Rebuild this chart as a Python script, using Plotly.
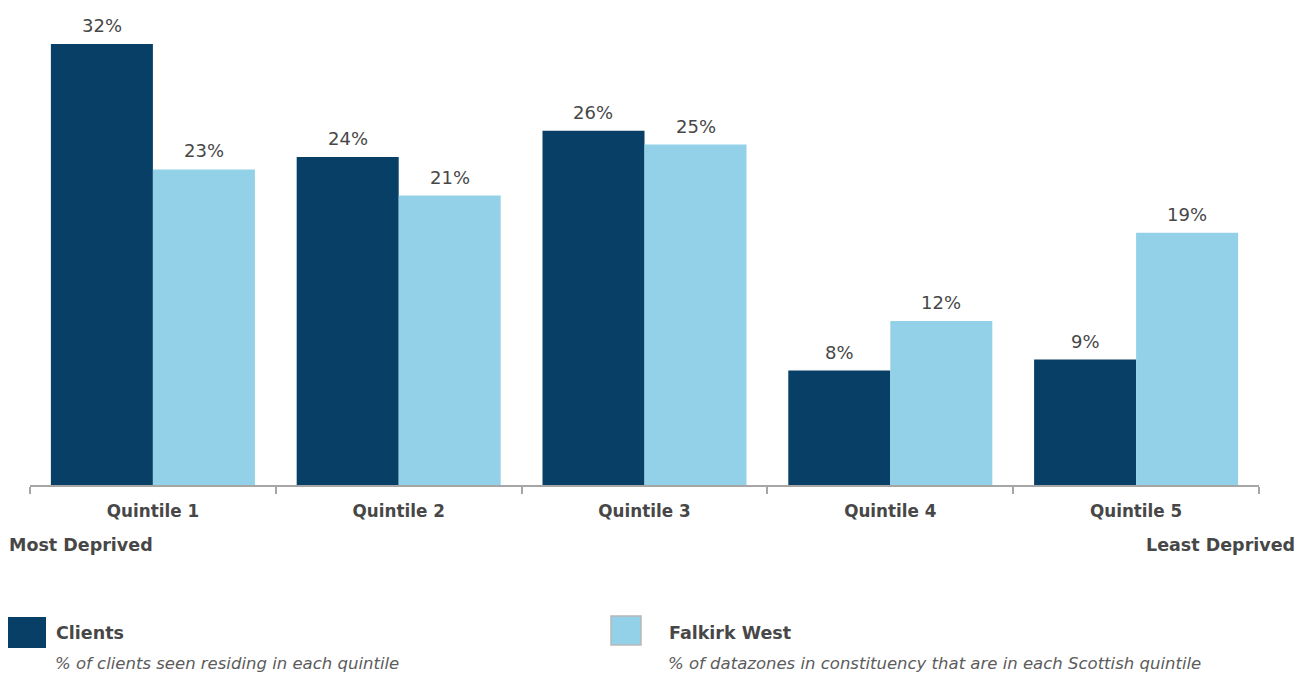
import plotly.graph_objects as go

categories = ["Quintile 1", "Quintile 2", "Quintile 3", "Quintile 4", "Quintile 5"]
clients = [32.0, 23.8, 25.7, 8.3, 9.1]
clients_labels = ["32%", "24%", "26%", "8%", "9%"]
falkirk = [22.9, 21.0, 24.7, 11.9, 18.3]
falkirk_labels = ["23%", "21%", "25%", "12%", "19%"]

DARK = "#083f66"
LIGHT = "#92d1e8"
TXT = "#474747"
FONT = "DejaVu Sans"

OFF = 8  # page body margin
W, H = 1310 - OFF, 675 - OFF
L, R, T, B = 30 - OFF, 51, 44 - OFF, 190
pw, ph = W - L - R, H - T - B
BARGAP = 0.17
half_bar = pw / len(categories) * (1 - BARGAP) / 4


def px(x):
    return (x - OFF - L) / pw


def py(y):
    return (H - B - (y - OFF)) / ph


fig = go.Figure()
fig.add_bar(x=categories, y=clients, name="Clients", marker_color=DARK,
            marker_line_width=0)
fig.add_bar(x=categories, y=falkirk, name="Falkirk West", marker_color=LIGHT,
            marker_line_width=0)

annotations = []
for vals, labs, sh in [(clients, clients_labels, -half_bar), (falkirk, falkirk_labels, half_bar)]:
    for c, v, t in zip(categories, vals, labs):
        annotations.append(dict(x=c, y=v, text=t, xref="x", yref="y", showarrow=False,
                                xshift=sh, yshift=6, yanchor="bottom",
                                font=dict(size=18, color=TXT, family=FONT)))

shapes = [
    dict(type="rect", xref="paper", yref="paper", x0=px(7), x1=px(46), y0=py(648), y1=py(617),
         fillcolor=DARK, line=dict(width=0)),
    dict(type="rect", xref="paper", yref="paper", x0=px(611), x1=px(641), y0=py(645), y1=py(616),
         fillcolor=LIGHT, line=dict(width=1.5, color="#b8b8b8")),
]

SUB = dict(size=16.5, color="#5c5c5c", family=FONT)
texts = [
    dict(text="<b>Most Deprived</b>", x=px(7), y=py(545), xanchor="left", yanchor="middle"),
    dict(text="<b>Least Deprived</b>", x=px(1297), y=py(545), xanchor="right", yanchor="middle"),
    dict(text="<b>Clients</b>", x=px(54), y=py(633), xanchor="left", yanchor="middle"),
    dict(text="<i>% of clients seen residing in each quintile</i>", x=px(53), y=py(663),
         xanchor="left", yanchor="middle", font=SUB),
    dict(text="<b>Falkirk West</b>", x=px(667), y=py(633), xanchor="left", yanchor="middle"),
    dict(text="<i>% of datazones in constituency that are in each Scottish quintile</i>", x=px(666), y=py(663),
         xanchor="left", yanchor="middle", font=SUB),
]
for a in texts:
    a.update(xref="paper", yref="paper", showarrow=False)
    a.setdefault("font", dict(size=17.5, color=TXT, family=FONT))
annotations += texts

fig.update_layout(
    width=W, height=H,
    margin=dict(l=L, r=R, t=T, b=B, pad=0),
    paper_bgcolor="white", plot_bgcolor="white",
    barmode="group", bargap=BARGAP, bargroupgap=0,
    showlegend=False,
    font=dict(family=FONT, color=TXT),
    shapes=shapes, annotations=annotations,
)
fig.update_xaxes(
    showline=True, linecolor="#a6a6a6", linewidth=1.5,
    ticks="outside", tickson="boundaries", ticklen=7, tickcolor="#a6a6a6", tickwidth=1.5,
    tickfont=dict(size=16.8, color=TXT, family=FONT),
    ticklabelstandoff=10,
    tickprefix="<b>", ticksuffix="</b>",
    showgrid=False, zeroline=False,
)
fig.update_yaxes(visible=False, range=[0, 32], showgrid=False, zeroline=False)

fig.write_html("out.html")
